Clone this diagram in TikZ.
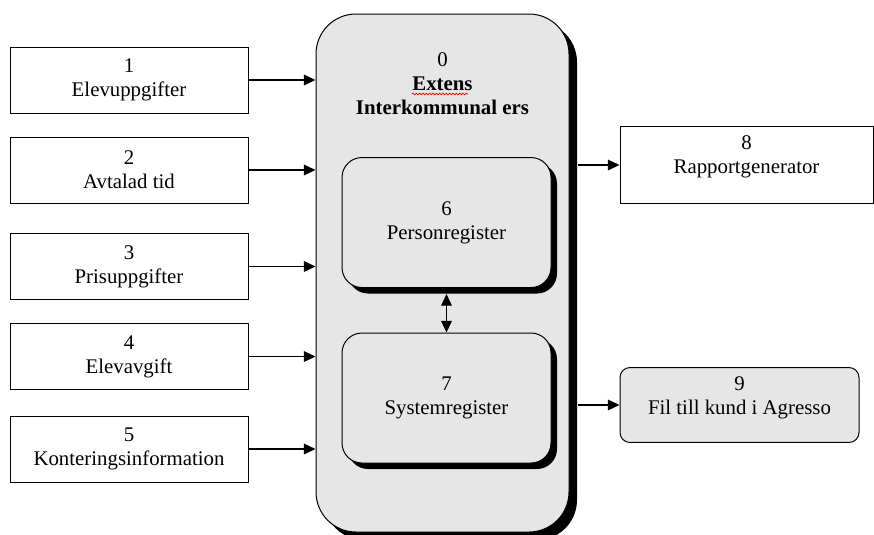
\documentclass[tikz,border=0pt]{standalone}
\usepackage{fontspec}
\setmainfont{Liberation Serif}
\usetikzlibrary{arrows.meta,shadows,decorations.pathmorphing}
\definecolor{regfill}{HTML}{E6E6E6}

\begin{document}
\begin{tikzpicture}[x=0.6pt,y=-0.6pt,
  >={Triangle[length=7pt,width=6.4pt]},
  every node/.style={font=\fontsize{12.5}{14.4}\selectfont, align=center},
  inbox/.style={draw, line width=0.6pt, minimum width=142.8pt, minimum height=39.6pt, inner sep=0pt},
  outbox/.style={draw, line width=0.6pt, anchor=north, inner xsep=0pt, inner ysep=5.4pt},
  regbox/.style={draw, line width=0.6pt, fill=regfill, rounded corners=12pt,
    minimum width=125.4pt, minimum height=78pt,
    drop shadow={shadow xshift=3.6pt, shadow yshift=-3.6pt, fill=black, opacity=1}},
  flow/.style={->, line width=0.8pt}]
\useasboundingbox (0,0) rectangle (874,534);

% main process
\node[draw, line width=0.6pt, fill=regfill, rounded corners=24pt,
  minimum width=151.8pt, minimum height=310.8pt,
  drop shadow={shadow xshift=4.8pt, shadow yshift=-4.8pt, fill=black, opacity=1}] (ext) at (442.5,273) {};
\node (ext-title) at (442.5,84) {0\\\textbf{Extens}\\\textbf{Interkommunal ers}};
\draw[red, line width=0.4pt, decorate, decoration={snake, amplitude=0.5pt, segment length=2pt}] (412,94) -- (468,94);

\node[regbox] (pers) at (446.5,222.5) {6\\Personregister};
\node[regbox] (sys) at (446.5,398) {7\\Systemregister};

% inputs
\node[inbox] (in1) at (129,80)  {1\\Elevuppgifter};
\node[inbox] (in2) at (129,170) {2\\Avtalad tid};
\node[inbox] (in3) at (129,266.5) {3\\Prisuppgifter};
\node[inbox] (in4) at (129,356.5) {4\\Elevavgift};
\node[inbox] (in5) at (129,449) {5\\Konteringsinformation};

% outputs
\node[outbox, minimum width=151.8pt, text depth=12.7pt] (rapport) at (746.5,126) {8\\Rapportgenerator};
\node[outbox, fill=regfill, rounded corners=6pt, minimum width=143.4pt, text depth=11.5pt] (agresso) at (739.5,367) {9\\Fil till kund i Agresso};

\path[flow] (in1) edge (in1 -| ext.west);
\path[flow] (in2) edge (in2 -| ext.west);
\path[flow] (in3) edge (in3 -| ext.west);
\path[flow] (in4) edge (in4 -| ext.west);
\path[flow] (in5) edge (in5 -| ext.west);
\path[flow] ([xshift=4.8pt]ext.east |- rapport.center) edge (rapport);
\path[flow] ([xshift=4.8pt]ext.east |- agresso.center) edge (agresso);
\path[<->, line width=0.8pt] ([yshift=-3.6pt]pers.south) edge (sys.north);
\end{tikzpicture}
\end{document}
